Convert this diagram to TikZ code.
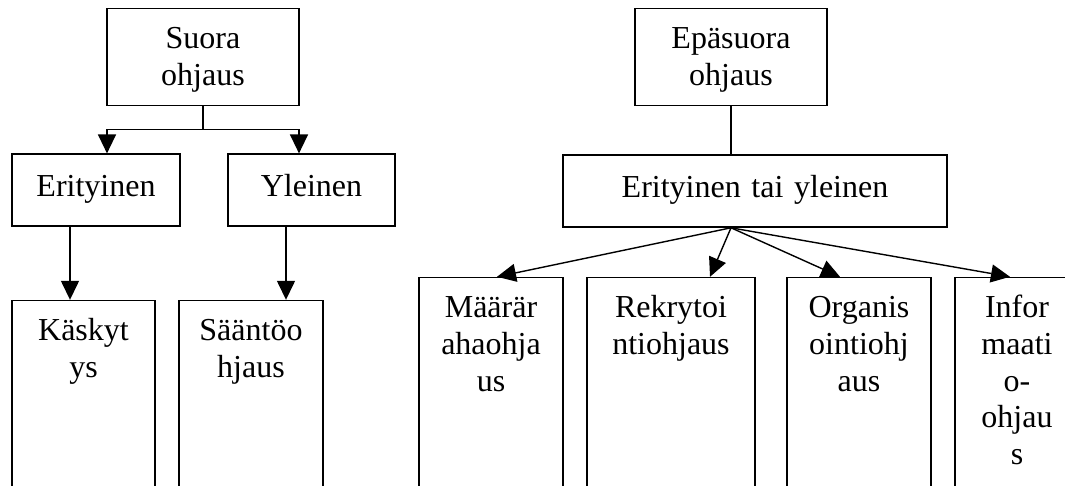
\documentclass[tikz,border=0pt]{standalone}
\usepackage{fontspec}
\setmainfont{Liberation Serif}
\usepackage{tikz}
\usetikzlibrary{arrows.meta}
\usetikzlibrary{positioning}
\tikzstyle{box}=[rectangle, draw=black, line width=1.4pt, inner sep=0pt, align=center, font={\fontsize{32}{36.8}\selectfont}]
\tikzstyle{head}=[box, text width=192pt, text height=40pt, text depth=57pt]
\tikzstyle{mid}=[box, text height=42pt, text depth=30pt]
\tikzstyle{leaf}=[box, text height=40pt, text depth=260pt]
\tikzstyle{link}=[line width=1.4pt]

\begin{document}
\begin{tikzpicture}[x=1pt, y=1pt, >={Triangle[length=19pt, width=18pt]}]
			\useasboundingbox (0,0) rectangle (1065,-486);
			\clip (0,0) rectangle (1065,-486);
			% suora ohjaus
			\node (suora) at (203,-8) [head, anchor=north] {Suora\\ohjaus};
			\node (erit) [below = 47pt of suora, xshift=-107pt, mid, text width=168pt] {Erityinen};
			\node (ylei) [below = 47pt of suora, xshift=108.5pt, mid, text width=167pt] {Yleinen};
			\node (kasky) [below = 73pt of erit, xshift=-12.5pt, leaf, text width=143pt] {Käskyt\\ys};
			\node (saanto) [below = 73pt of ylei, xshift=-60.5pt, leaf, text width=144pt] {Sääntöo\\hjaus};
			\draw[link] (suora.south) -- ++(0,-23) coordinate (fork);
			\draw[->, link] (fork) -| ([xshift=11pt]erit.north);
			\draw[->, link] (fork) -| ([xshift=-12.5pt]ylei.north);
			\path[->, link]
				([xshift=-26pt]erit.south) edge ([xshift=-13.5pt]kasky.north)
				([xshift=-25.5pt]ylei.south) edge ([xshift=35pt]saanto.north);
			% epasuora ohjaus
			\node (epa) at (731,-8) [head, anchor=north] {Epäsuora\\ohjaus};
			\node (ety) [below = 48pt of epa, xshift=24pt, mid, text width=384pt] {Erityinen tai yleinen};
			\draw[link] (epa.south) -- (epa.south |- ety.north);
			\coordinate (hub) at (epa.south |- ety.south);
			\node (maar) [below = 49pt of ety, xshift=-264pt, leaf, text width=144pt] {Määrär\\ahaohja\\us};
			\node (rekry) [below = 49pt of ety, xshift=-84pt, leaf, text width=168pt] {Rekrytoi\\ntiohjaus};
			\node (organ) [below = 49pt of ety, xshift=104pt, leaf, text width=144pt] {Organis\\ointiohj\\aus};
			\node (info) [below = 49pt of ety, xshift=262pt, leaf, text width=124pt] {Infor\\maati\\o-\\ohjau\\s};
			\path[->, link]
				(hub) edge ([xshift=6pt]maar.north)
				(hub) edge ([xshift=39pt]rekry.north)
				(hub) edge ([xshift=-19pt]organ.north)
				(hub) edge ([xshift=-7pt]info.north);
\end{tikzpicture}
\end{document}
